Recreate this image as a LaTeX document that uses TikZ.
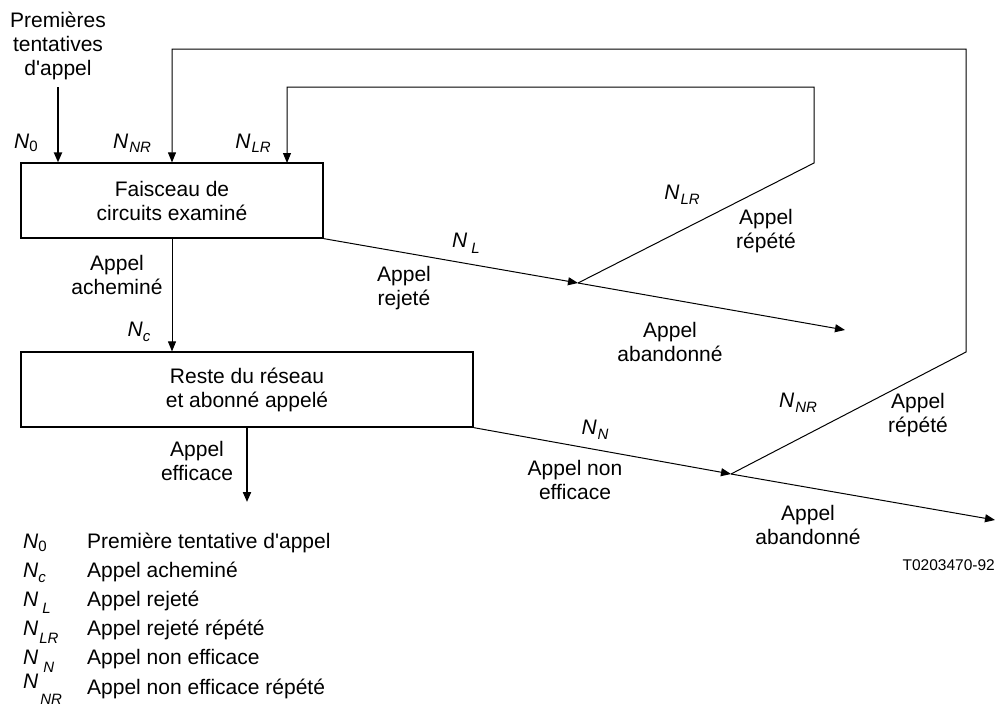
\documentclass[tikz,border=0pt]{standalone}
\usepackage{fontspec}
\setmainfont{Liberation Sans}
\usetikzlibrary{arrows.meta}
\newcommand{\Nsb}[3]{\textit{N}\kern#1\raisebox{-#2}{\fontsize{15}{15}\selectfont#3}}

\begin{document}
\begin{tikzpicture}[x=1pt, y=-1pt,
  font=\fontsize{21}{24}\selectfont, >={Triangle[length=10pt, width=8pt]},
  box/.style={draw, line width=1.2pt, align=center, inner sep=0pt, minimum height=75pt},
  lbl/.style={align=center, inner sep=0pt},
  arr/.style={->, line width=1pt},
  tarr/.style={->, line width=2pt}]
\useasboundingbox (0,0) rectangle (998,720);
\node[box, minimum width=302pt] (faisceau) at (172,200.5) {Faisceau de\\circuits examiné};
\node[box, minimum width=452pt] (reste) at (247,389.5) {Reste du réseau\\et abonné appelé};
\node[lbl] (premieres) at (58,46) {Premières\\tentatives\\d\textquotesingle appel};
\coordinate (n0top) at (58,87);
\coordinate (jL) at (578,283);
\coordinate (endL) at (845,330);
\coordinate (cLR) at (814,163);
\coordinate (topLR) at (814,87);
\coordinate (inLR) at (287,163);
\coordinate (jN) at (731,474);
\coordinate (endN) at (995,520);
\coordinate (cNR) at (966,352);
\coordinate (topNR) at (966,49);
\coordinate (effend) at (247,502);
\draw[tarr] (n0top) -- (n0top |- faisceau.north);
\draw[arr] (jN) -- (cNR) -- (topNR) -| (faisceau.north);
\draw[arr] (jL) -- (cLR) -- (topLR) -| (inLR);
\draw[arr] (faisceau.south) -- (faisceau.south |- reste.north);
\draw[arr] (faisceau.south east) -- (jL);
\draw[arr] (jL) -- (endL);
\draw[arr] (reste.south east) -- (jN);
\draw[arr] (jN) -- (endN);
\draw[tarr] (reste.south) -- (effend);
\node[lbl] (nzero) at (26,143) {\Nsb{0pt}{3pt}{0}};
\node[lbl] (nnrtop) at (132,143) {\Nsb{1pt}{4pt}{\textit{NR}}};
\node[lbl] (nlrtop) at (253,143) {\Nsb{1pt}{4pt}{\textit{LR}}};
\node[lbl] (nc) at (139,332) {\Nsb{0pt}{5pt}{\textit{c}}};
\node[lbl] (achemine) at (117,275) {Appel\\acheminé};
\node[lbl] (nl) at (466,243) {\Nsb{4pt}{6pt}{\textit{L}}};
\node[lbl] (rejete) at (404,288) {Appel\\rejeté};
\node[lbl] (nlrdiag) at (682,195) {\Nsb{1pt}{5pt}{\textit{LR}}};
\node[lbl] (repeteL) at (766,231) {Appel\\répété};
\node[lbl] (abandonL) at (670,342) {Appel\\abandonné};
\node[lbl] (efficace) at (197,461) {Appel\\efficace};
\node[lbl] (nn) at (595,430) {\Nsb{1pt}{5pt}{\textit{N}}};
\node[lbl] (nonefficace) at (575,480) {Appel non\\efficace};
\node[lbl] (nnrdiag) at (798,403) {\Nsb{1pt}{5pt}{\textit{NR}}};
\node[lbl] (repeteN) at (918,415) {Appel\\répété};
\node[lbl] (abandonN) at (808,525) {Appel\\abandonné};
\node[lbl, anchor=east, font=\fontsize{15.5}{18}\selectfont] (ref) at (995,565) {T0203470-92};
\node[anchor=base west, inner sep=0pt] (symA) at (23,548) {\Nsb{0pt}{3pt}{0}};
\node[anchor=base west, inner sep=0pt] (txtA) at (87,548) {Première tentative d\textquotesingle appel};
\node[anchor=base west, inner sep=0pt] (symB) at (23,577) {\Nsb{0pt}{5pt}{\textit{c}}};
\node[anchor=base west, inner sep=0pt] (txtB) at (87,577) {Appel acheminé};
\node[anchor=base west, inner sep=0pt] (symC) at (23,606) {\Nsb{4pt}{7pt}{\textit{L}}};
\node[anchor=base west, inner sep=0pt] (txtC) at (87,606) {Appel rejeté};
\node[anchor=base west, inner sep=0pt] (symD) at (23,635) {\Nsb{1pt}{8pt}{\textit{LR}}};
\node[anchor=base west, inner sep=0pt] (txtD) at (87,635) {Appel rejeté répété};
\node[anchor=base west, inner sep=0pt] (symE) at (23,664) {\Nsb{5pt}{8pt}{\textit{N}}};
\node[anchor=base west, inner sep=0pt] (txtE) at (87,664) {Appel non efficace};
\node[anchor=base west, inner sep=0pt] (symF) at (23,688) {\Nsb{2pt}{16pt}{\textit{NR}}};
\node[anchor=base west, inner sep=0pt] (txtF) at (87,694) {Appel non efficace répété};
\end{tikzpicture}
\end{document}
